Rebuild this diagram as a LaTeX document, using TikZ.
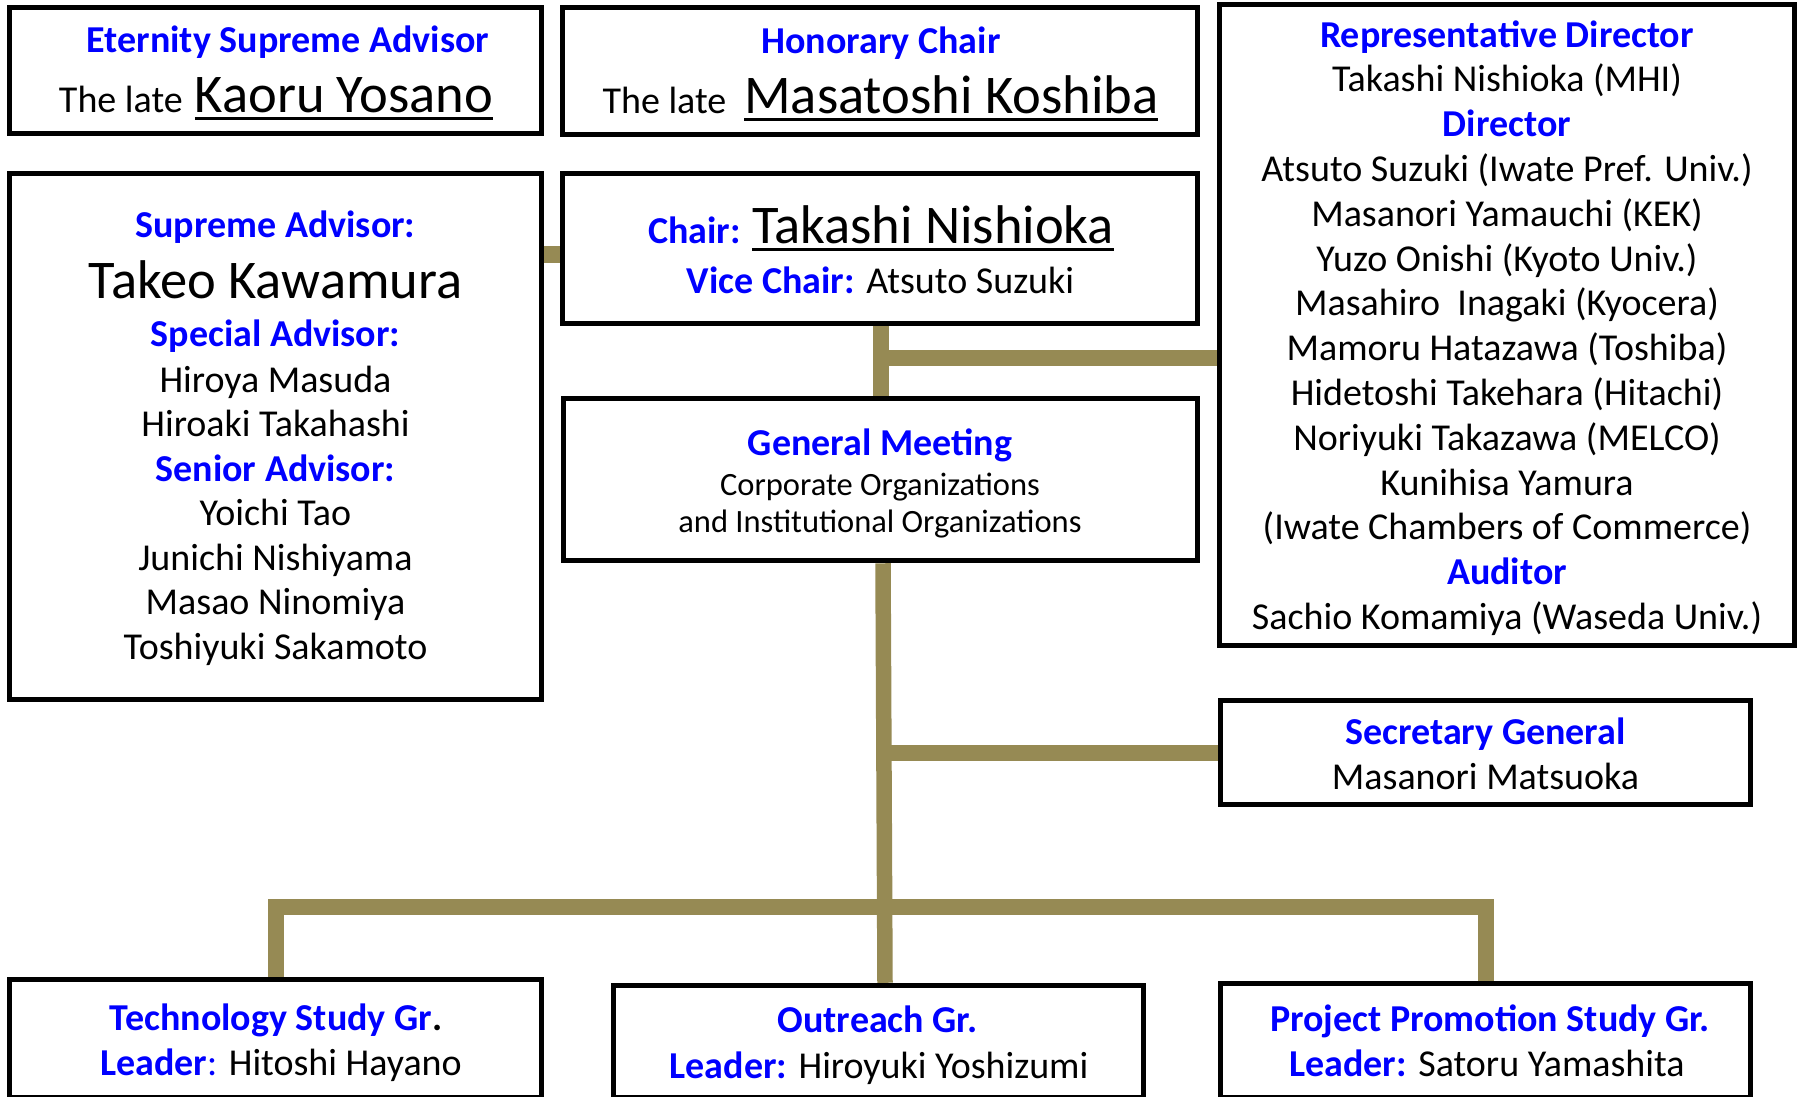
\documentclass[tikz,border=0pt]{standalone}
\usepackage{fontspec}
\setmainfont{Carlito}
\usetikzlibrary{backgrounds,calc}
\definecolor{lblue}{RGB}{0,0,255}
\definecolor{linkolive}{RGB}{150,138,84}
\newsavebox\ulbox
\newcommand\ulname[1]{\sbox\ulbox{#1}\rlap{\rule[-7.5pt]{\wd\ulbox}{2.6pt}}\usebox\ulbox}
\newcommand\lbl[1]{{\bfseries\color{lblue}#1}}
\newcommand\bigname[1]{{\fontsize{54.5}{65}\selectfont #1}}
\begin{document}
\begin{tikzpicture}[x=1pt,y=-1pt,
  box/.style={draw=black,line width=5.5pt,fill=white,inner sep=0pt,rectangle},
  txt/.style={anchor=base,inner sep=0pt,font=\fontsize{38}{45}\selectfont},
  smalltxt/.style={anchor=base,inner sep=0pt,font=\fontsize{32.5}{38}\selectfont},
  conn/.style={draw=linkolive,line width=15.5pt}]
\useasboundingbox (0,0) rectangle (1797,1096);
% boxes
\node[box,minimum width=532pt,minimum height=126pt] (etern) at (275.5,70.5) {};
\node[box,minimum width=635pt,minimum height=127pt] (hon) at (880,71) {};
\node[box,minimum width=575pt,minimum height=641pt] (rep) at (1507,325) {};
\node[box,minimum width=532pt,minimum height=526pt] (sup) at (275.5,436.5) {};
\node[box,minimum width=635pt,minimum height=150pt] (chair) at (880,248.5) {};
\node[box,minimum width=634pt,minimum height=162pt] (gm) at (880.5,479.5) {};
\node[box,minimum width=530pt,minimum height=104pt] (sec) at (1485.5,752.5) {};
\node[box,minimum width=532pt,minimum height=118.5pt] (tech) at (275.5,1038.75) {};
\node[box,minimum width=530pt,minimum height=112.5pt] (outr) at (878.5,1041.75) {};
\node[box,minimum width=530pt,minimum height=114.5pt] (proj) at (1485.5,1040.75) {};
% texts
\node[txt] (etern1) at (288,52) {\lbl{Eternity Supreme Advisor}};
\node[txt] (etern2) at (276,112) {The late\hspace{12pt}\bigname{\ulname{Kaoru Yosano}}};
\node[txt] (hon1) at (881,53) {\lbl{Honorary Chair}};
\node[txt] (hon2) at (880.5,113) {The late\hspace{18pt}\bigname{\ulname{Masatoshi Koshiba}}};
\foreach \t [count=\i from 0] in {{\lbl{Representative Director}},{Takashi Nishioka (MHI)},{\lbl{Director}},{Atsuto Suzuki (Iwate Pref. Univ.)},{Masanori Yamauchi (KEK)},{Yuzo Onishi (Kyoto Univ.)},{Masahiro\ \ Inagaki (Kyocera)},{Mamoru Hatazawa (Toshiba)},{Hidetoshi Takehara (Hitachi)},{Noriyuki Takazawa (MELCO)},{Kunihisa Yamura},{(Iwate Chambers of Commerce)},{\lbl{Auditor}},{Sachio Komamiya (Waseda Univ.)}}
  \node[txt] (rep\i) at (1507,{47+44.8*\i}) {\t};
\node[txt] (sup1) at (275.5,237.5) {\lbl{Supreme Advisor:}};
\node[txt] (sup2) at (275.5,298) {\bigname{Takeo Kawamura}};
\node[txt] (sup3) at (275.5,346) {\lbl{Special Advisor:}};
\node[txt] (sup4) at (275.5,392) {Hiroya Masuda};
\node[txt] (sup5) at (275.5,436.5) {Hiroaki Takahashi};
\node[txt] (sup6) at (275.5,481) {\lbl{Senior Advisor:}};
\node[txt] (sup7) at (275.5,525.5) {Yoichi Tao};
\node[txt] (sup8) at (275.5,570) {Junichi Nishiyama};
\node[txt] (sup9) at (275.5,614.5) {Masao Ninomiya};
\node[txt] (sup10) at (275.5,659) {Toshiyuki Sakamoto};
\node[txt] (chair1) at (881,243) {\lbl{Chair:} \bigname{\ulname{Takashi Nishioka}}};
\node[txt] (chair2) at (880.5,293) {\lbl{Vice Chair:} Atsuto Suzuki};
\node[txt] (gm1) at (880,455) {\lbl{General Meeting}};
\node[smalltxt] (gm2) at (880,495) {Corporate Organizations};
\node[smalltxt] (gm3) at (880,532.5) {and Institutional Organizations};
\node[txt] (sec1) at (1485.5,744) {\lbl{Secretary General}};
\node[txt] (sec2) at (1485.5,789) {Masanori Matsuoka};
\node[txt] (tech1) at (276,1030) {\lbl{Technology Study Gr}\textbf{.}};
\node[txt] (tech2) at (281,1075) {\lbl{Leader}\textcolor{lblue}{:} Hitoshi Hayano};
\node[txt] (outr1) at (877.5,1032) {\lbl{Outreach Gr.}};
\node[txt] (outr2) at (879,1078) {\lbl{Leader:} Hiroyuki Yoshizumi};
\node[txt] (proj1) at (1490,1031) {\lbl{Project Promotion Study Gr.}};
\node[txt] (proj2) at (1487,1076) {\lbl{Leader:} Satoru Yamashita};
% connectors
\coordinate (j1) at (881,358);
\coordinate (j2) at (884,753);
\coordinate (j3) at (884,907);
\begin{pgfonlayer}{background}
\draw[conn,line width=17pt] (sup.east |- 0,254.5) -- (chair.west |- 0,254.5);
\draw[conn] (chair.south -| j1) -- (gm.north -| j1);
\draw[conn] (j1) -- (rep.west |- j1);
\draw[conn] ($(gm.south)+(2.5,0)$) -- ($(outr.north)+(6.5,0)$);
\draw[conn] (j2) -- (sec.west |- j2);
\draw[conn,line width=16pt,line join=miter] (tech.north) -- (tech.north |- j3) -- (proj.north |- j3) -- (proj.north);
\end{pgfonlayer}
\end{tikzpicture}
\end{document}
